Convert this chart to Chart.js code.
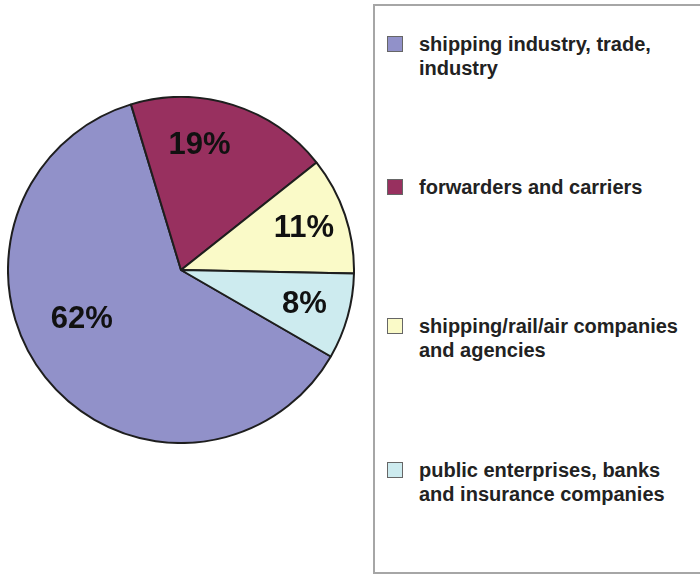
<!DOCTYPE html>
<html>
<head>
<meta charset="utf-8">
<script src="https://cdn.jsdelivr.net/npm/chart.js@4/dist/chart.umd.min.js"></script>
<style>
  html, body { margin: 0; padding: 0; background: #fff; width: 700px; height: 574px; overflow: hidden; }
  #pieWrap { position: absolute; left: 7px; top: 96px; width: 348px; height: 348px; }
  #legend { position: absolute; left: 373px; top: 4px; width: 400px; height: 570px;
            border: 2px solid #a6a6a6; box-sizing: border-box; background: #fff; }
  .item { position: absolute; left: 12px; font-family: "Liberation Sans", Arial, sans-serif;
          font-weight: bold; font-size: 20px; line-height: 24px; color: #222; }
  .sw { position: absolute; left: 0; top: 4px; width: 14px; height: 14px; border: 1px solid #666; box-sizing: content-box; }
  .tx { position: absolute; left: 32px; white-space: nowrap; top: 0; }
</style>
</head>
<body>
<div id="pieWrap"><canvas id="c"></canvas></div>
<div id="legend"></div>
<script>
const categories = [
  "shipping industry, trade,\nindustry",
  "forwarders and carriers",
  "shipping/rail/air companies\nand agencies",
  "public enterprises, banks\nand insurance companies"
];
const shares = [62, 19, 11, 8];
const sliceColors = ["#9191c9", "#98305f", "#fafac8", "#cdebef"];

// legend (HTML, built from the arrays)
const legendTops = [26, 169, 308, 452];
const legend = document.getElementById('legend');
categories.forEach((cat, i) => {
  const it = document.createElement('div');
  it.className = 'item';
  it.style.top = legendTops[i] + 'px';
  const sw = document.createElement('div');
  sw.className = 'sw';
  sw.style.background = sliceColors[i];
  const tx = document.createElement('div');
  tx.className = 'tx';
  tx.innerHTML = cat.split('\n').map(s => s.replace(/&/g,'&amp;')).join('<br>');
  it.appendChild(sw); it.appendChild(tx);
  legend.appendChild(it);
});

// percentage labels drawn on slices
const labelAngleShift = [12, -9, 0, 0];   // degrees
const labelRadius = [0.64, 0.73, 0.75, 0.74];
const pctLabels = {
  id: 'pctLabels',
  afterDatasetsDraw(chart) {
    const ctx = chart.ctx;
    const meta = chart.getDatasetMeta(0);
    ctx.save();
    ctx.font = 'bold 31px "Liberation Sans", Arial, sans-serif';
    ctx.fillStyle = '#111';
    ctx.textAlign = 'center';
    ctx.textBaseline = 'middle';
    meta.data.forEach((arc, i) => {
      const p = arc.getProps(['x', 'y', 'startAngle', 'endAngle', 'outerRadius'], true);
      const a = (p.startAngle + p.endAngle) / 2 + labelAngleShift[i] * Math.PI / 180;
      const r = p.outerRadius * labelRadius[i];
      ctx.fillText(shares[i] + '%', p.x + Math.cos(a) * r, p.y + Math.sin(a) * r);
    });
    ctx.restore();
  }
};

new Chart(document.getElementById('c'), {
  type: 'pie',
  data: {
    labels: categories,
    datasets: [{
      data: shares,
      backgroundColor: sliceColors,
      borderColor: '#1e1e1e',
      borderWidth: 2
    }]
  },
  options: {
    responsive: true,
    maintainAspectRatio: false,
    animation: false,
    rotation: 120,
    layout: { padding: 0 },
    plugins: {
      legend: { display: false },
      tooltip: { enabled: false }
    }
  },
  plugins: [pctLabels]
});
</script>
</body>
</html>
